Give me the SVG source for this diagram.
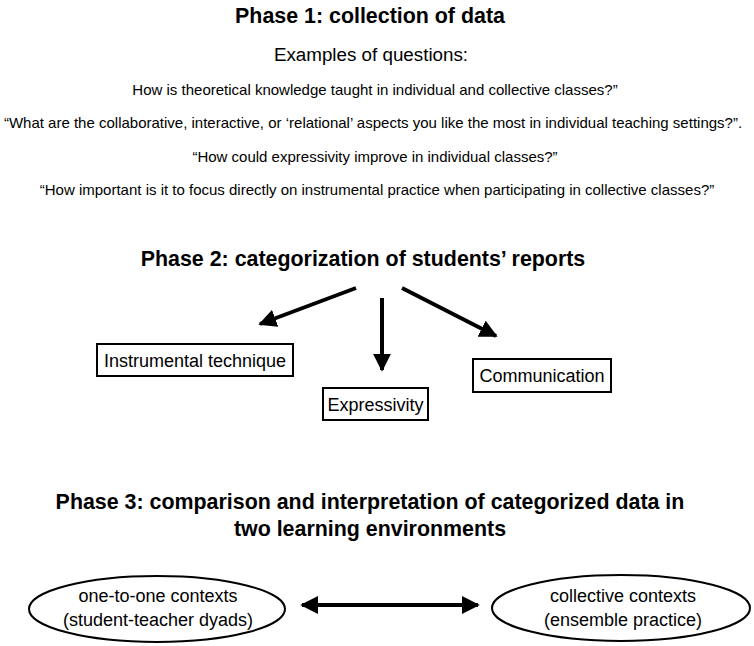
<svg xmlns="http://www.w3.org/2000/svg" width="754" height="646" viewBox="0 0 754 646">
<style>
text{font-family:"Liberation Sans",Arial,sans-serif;fill:#000;text-anchor:middle}
.h{font-weight:bold;font-size:21.4px}
.sub{font-size:18.8px}
.q{font-size:15px}
.lbl{font-size:18px}
.box{fill:#fff;stroke:#000;stroke-width:2}
.conn{stroke:#000;stroke-width:4;fill:none}
</style>
<defs>
<marker id="ah" viewBox="0 0 10 10" refX="9" refY="5" markerWidth="4.5" markerHeight="4.5" orient="auto-start-reverse" markerUnits="strokeWidth">
<path d="M0,0 L10,5 L0,10 z" fill="#000"/>
</marker>
</defs>
<rect width="754" height="646" fill="#fff"/>
<g id="phase1">
<text class="h" x="370" y="23">Phase 1: collection of data</text>
<text class="sub" x="371" y="61">Examples of questions:</text>
<text class="q" x="375" y="95">How is theoretical knowledge taught in individual and collective classes?”</text>
<text class="q" x="373" y="128">“What are the collaborative, interactive, or ‘relational’ aspects you like the most in individual teaching settings?”.</text>
<text class="q" x="375" y="162">“How could expressivity improve in individual classes?”</text>
<text class="q" x="377" y="195">“How important is it to focus directly on instrumental practice when participating in collective classes?”</text>
</g>
<g id="phase2">
<text class="h" x="363" y="266">Phase 2: categorization of students’ reports</text>
</g>
<g id="connectors">
<line class="conn" x1="356" y1="288" x2="260" y2="324" marker-end="url(#ah)"/>
<line class="conn" x1="382" y1="298" x2="382" y2="370" marker-end="url(#ah)"/>
<line class="conn" x1="402" y1="288" x2="496" y2="336" marker-end="url(#ah)"/>
<line class="conn" x1="302" y1="605" x2="478" y2="605" marker-start="url(#ah)" marker-end="url(#ah)"/>
</g>
<g id="instrumental">
<rect class="box" x="97" y="344" width="196" height="32"/>
<text class="lbl" x="195" y="367">Instrumental technique</text>
</g>
<g id="expressivity">
<rect class="box" x="323" y="388" width="105" height="32"/>
<text class="lbl" x="375.5" y="411">Expressivity</text>
</g>
<g id="communication">
<rect class="box" x="473" y="359" width="138" height="33"/>
<text class="lbl" x="542" y="382">Communication</text>
</g>
<g id="phase3">
<text class="h" x="370" y="509">Phase 3: comparison and interpretation of categorized data in</text>
<text class="h" x="370" y="536">two learning environments</text>
</g>
<g id="onetoone">
<ellipse class="box" cx="157" cy="609" rx="128" ry="33"/>
<text class="lbl" x="158" y="602">one-to-one contexts</text>
<text class="lbl" x="158" y="626">(student-teacher dyads)</text>
</g>
<g id="collective">
<ellipse class="box" cx="621" cy="608" rx="129" ry="33"/>
<text class="lbl" x="623" y="602">collective contexts</text>
<text class="lbl" x="623" y="626">(ensemble practice)</text>
</g>
</svg>
